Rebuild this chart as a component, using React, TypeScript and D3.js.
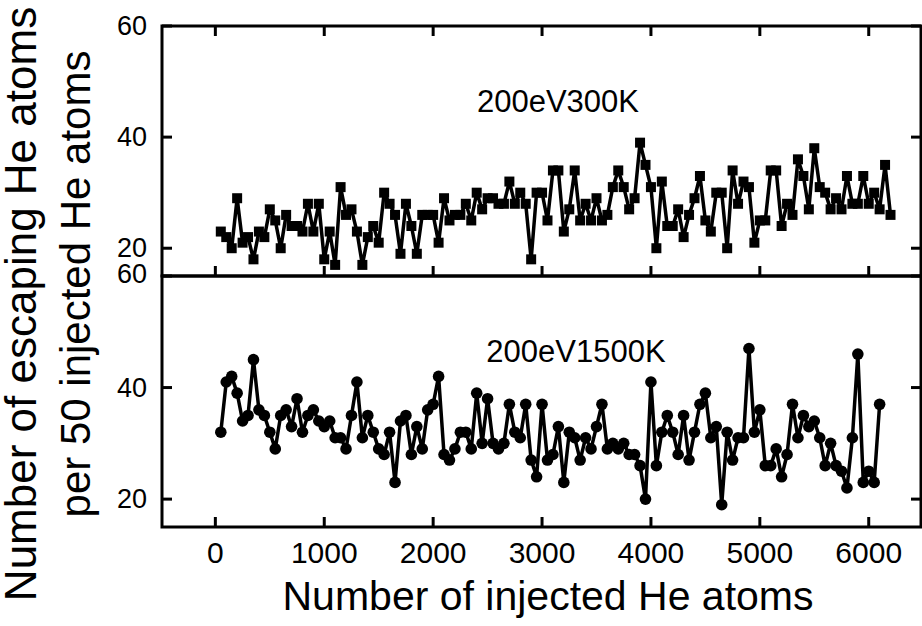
import React from "react";
import * as d3 from "d3";

const injectedStep = 50;
const topValues = [
  23, 22, 20, 29, 21, 22, 18, 23, 22, 27,
  25, 20, 26, 24, 24, 23, 28, 23, 28, 18,
  23, 17, 31, 26, 27, 23, 17, 22, 24, 21,
  30, 28, 26, 19, 28, 24, 19, 26, 26, 26,
  21, 29, 25, 26, 26, 28, 25, 30, 27, 29,
  29, 28, 28, 32, 28, 30, 28, 18, 30, 30,
  25, 34, 34, 23, 27, 34, 25, 28, 25, 29,
  25, 26, 31, 34, 31, 27, 29, 39, 35, 31,
  20, 32, 24, 24, 27, 22, 26, 29, 33, 25,
  23, 30, 30, 20, 34, 28, 32, 31, 21, 25,
  25, 34, 34, 24, 28, 26, 36, 33, 27, 38,
  31, 30, 27, 29, 27, 33, 28, 28, 33, 28,
  30, 27, 35, 26,
];
const bottomValues = [
  32, 41, 42, 39, 34, 35, 45, 36, 35, 32,
  29, 35, 36, 33, 38, 32, 35, 36, 34, 33,
  34, 31, 31, 29, 35, 41, 31, 35, 32, 29,
  28, 32, 23, 34, 35, 28, 33, 29, 36, 37,
  42, 28, 27, 29, 32, 32, 29, 39, 30, 38,
  30, 29, 30, 37, 32, 31, 37, 27, 24, 37,
  27, 28, 33, 23, 32, 31, 27, 31, 29, 33,
  37, 29, 30, 29, 30, 28, 28, 26, 20, 41,
  26, 32, 35, 32, 28, 35, 27, 32, 37, 39,
  31, 33, 19, 32, 27, 31, 31, 47, 32, 36,
  26, 26, 29, 24, 28, 37, 31, 35, 33, 34,
  31, 26, 30, 26, 25, 22, 31, 46, 23, 25,
  23, 37,
];
const xTicks = [0, 1000, 2000, 3000, 4000, 5000, 6000];
const yTicks = [20, 40, 60];
const topLabel = "200eV300K";
const bottomLabel = "200eV1500K";
const xTitle = "Number of injected He atoms";
const yTitle1 = "Number of escaping He atoms";
const yTitle2 = "per 50 injected He atoms";

const FONT = "'Liberation Sans', Arial, sans-serif";

export default function App() {
  const W = 922, H = 626;
  const left = 162, right = 921;
  const topY0 = 26, midY = 276, botY1 = 527;
  const x = d3.scaleLinear().domain([-490, 6480]).range([left, right]);
  const yTop = d3.scaleLinear().domain([15, 60]).range([midY, topY0]);
  const yBot = d3.scaleLinear().domain([15, 60]).range([botY1, midY]);

  const topData = topValues.map((v, i) => ({ n: (i + 1) * injectedStep, v }));
  const botData = bottomValues.map((v, i) => ({ n: (i + 1) * injectedStep, v }));

  const lineTop = d3.line<any>().x((d) => x(d.n)).y((d) => yTop(d.v));
  const lineBot = d3.line<any>().x((d) => x(d.n)).y((d) => yBot(d.v));

  const tickLen = 10;
  const sw = 3;
  const sq = 10;

  return (
    <svg width={W} height={H} style={{ position: "absolute", left: 0, top: 0, background: "#fff" }}>
      <rect x={0} y={0} width={W} height={H} fill="#fff" />
      {/* Frames */}
      <rect x={left} y={topY0} width={right - left} height={midY - topY0} fill="none" stroke="#000" strokeWidth={sw} />
      <rect x={left} y={midY} width={right - left} height={botY1 - midY} fill="none" stroke="#000" strokeWidth={sw} />

      {/* X ticks */}
      {xTicks.map((t) => (
        <g key={"xt" + t} stroke="#000" strokeWidth={sw}>
          <line x1={x(t)} x2={x(t)} y1={topY0} y2={topY0 + tickLen} />
          <line x1={x(t)} x2={x(t)} y1={midY} y2={midY - tickLen} />
          <line x1={x(t)} x2={x(t)} y1={botY1} y2={botY1 - tickLen} />
        </g>
      ))}
      {xTicks.map((t) => (
        <text key={"xl" + t} x={x(t)} y={563} textAnchor="middle" fontFamily={FONT} fontSize={30} fill="#000">
          {t}
        </text>
      ))}

      {/* Y ticks */}
      {yTicks.map((t) => (
        <g key={"yt" + t} stroke="#000" strokeWidth={sw}>
          <line x1={left} x2={left + tickLen} y1={yTop(t)} y2={yTop(t)} />
          <line x1={right} x2={right - tickLen} y1={yTop(t)} y2={yTop(t)} />
          <line x1={left} x2={left + tickLen} y1={yBot(t)} y2={yBot(t)} />
          <line x1={right} x2={right - tickLen} y1={yBot(t)} y2={yBot(t)} />
        </g>
      ))}
      {yTicks.map((t) => (
        <text key={"ylt" + t} x={147} y={yTop(t) + 9} textAnchor="end" fontFamily={FONT} fontSize={27} fill="#000">
          {t}
        </text>
      ))}
      {yTicks.map((t) => (
        <text key={"ylb" + t} x={147} y={yBot(t) + (t === 60 ? 7 : 9)} textAnchor="end" fontFamily={FONT} fontSize={27} fill="#000">
          {t}
        </text>
      ))}

      {/* Top series */}
      <path d={lineTop(topData) || ""} fill="none" stroke="#000" strokeWidth={3.5} strokeLinejoin="round" />
      {topData.map((d, i) => (
        <rect key={"s" + i} x={x(d.n) - sq / 2} y={yTop(d.v) - sq / 2} width={sq} height={sq} fill="#000" />
      ))}
      {/* Bottom series */}
      <path d={lineBot(botData) || ""} fill="none" stroke="#000" strokeWidth={3.5} strokeLinejoin="round" />
      {botData.map((d, i) => (
        <circle key={"c" + i} cx={x(d.n)} cy={yBot(d.v)} r={5.8} fill="#000" />
      ))}

      {/* Panel labels */}
      <text x={558} y={112} textAnchor="middle" fontFamily={FONT} fontSize={31} fill="#000">{topLabel}</text>
      <text x={576} y={362} textAnchor="middle" fontFamily={FONT} fontSize={31} fill="#000">{bottomLabel}</text>

      {/* Axis titles */}
      <text x={548} y={610} textAnchor="middle" fontFamily={FONT} fontSize={41} fill="#000">{xTitle}</text>
      <text transform={`translate(36,304) rotate(-90)`} textAnchor="middle" fontFamily={FONT} fontSize={44} fill="#000">{yTitle1}</text>
      <text transform={`translate(90,284) rotate(-90)`} textAnchor="middle" fontFamily={FONT} fontSize={42} fill="#000">{yTitle2}</text>
    </svg>
  );
}
